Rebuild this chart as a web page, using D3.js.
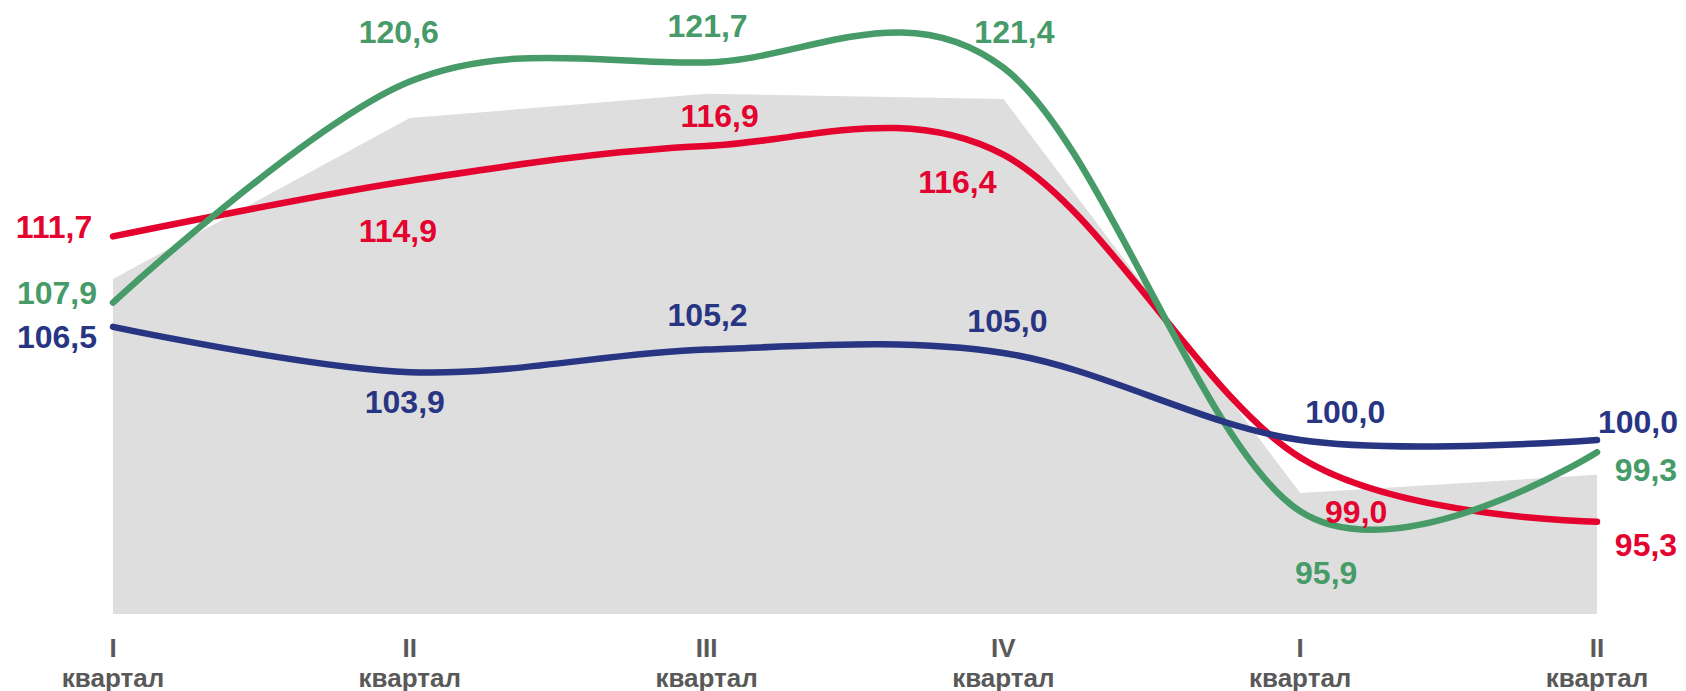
<!DOCTYPE html>
<html>
<head>
    <meta charset="utf-8">
    <title>Индексы по кварталам</title>
    <script src="https://d3js.org/d3.v7.min.js"></script>
    <style>
        body { margin: 0; background: #fff; }
        .value-label {
            font-family: "Liberation Sans", Arial, sans-serif;
            font-weight: bold;
            font-size: 32px;
            text-anchor: middle;
        }
        .axis-label {
            font-family: "Liberation Sans", Arial, sans-serif;
            font-weight: bold;
            font-size: 26px;
            fill: #595959;
            text-anchor: middle;
        }
    </style>
</head>
<body>
    <div id="chart"></div>
    <script>
        // подписи оси X
        const quarters = ["I", "II", "III", "IV", "I", "II"];
        const quarterWord = "квартал";

        // ряды данных
        const areaValues  = [109.25, 118.5, 119.9, 119.6, 96.95, 98.0];
        const redValues   = [111.7, 114.9, 116.9, 116.4, 99.0, 95.3];
        const greenValues = [107.9, 120.6, 121.7, 121.4, 95.9, 99.3];
        const blueValues  = [106.5, 103.9, 105.2, 105.0, 100.0, 100.0];

        // смещения подписей значений относительно точек
        const redOffsets   = [[-59, 2], [-12, 61], [13, -19], [-46, 38], [56, 66], [49, 34]];
        const greenOffsets = [[-56, 1], [-11, -39], [1, -25], [11, -25], [26, 73], [49, 29]];
        const blueOffsets  = [[-56, 21], [-5, 41], [1, -24], [4, -21], [45, -17], [41, -7]];

        const colors = {
            area: "#dedede",
            red: "#e4032e",
            green: "#469b68",
            blue: "#283583"
        };

        const width = 1686, height = 691;

        const svg = d3.select("#chart")
            .append("svg")
            .attr("width", width)
            .attr("height", height);

        const x = d3.scalePoint()
            .domain(d3.range(quarters.length))
            .range([113, 1597]);

        const y = d3.scaleLinear()
            .domain([90, 125])
            .range([614, 5]);

        // серая область
        const area = d3.area()
            .x((d, i) => x(i))
            .y0(y(90))
            .y1(d => y(d));

        svg.append("path")
            .datum(areaValues)
            .attr("d", area)
            .style("fill", colors.area);

        // сглаженные линии
        const line = d3.line()
            .x((d, i) => x(i))
            .y(d => y(d))
            .curve(d3.curveCardinal.tension(0));

        const series = [
            { values: redValues, color: colors.red, offsets: redOffsets },
            { values: greenValues, color: colors.green, offsets: greenOffsets },
            { values: blueValues, color: colors.blue, offsets: blueOffsets }
        ];

        series.forEach(s => {
            svg.append("path")
                .datum(s.values)
                .attr("d", line)
                .style("fill", "none")
                .style("stroke", s.color)
                .style("stroke-width", 6.5)
                .style("stroke-linecap", "round");
        });

        // подписи значений
        series.forEach(s => {
            svg.selectAll(null)
                .data(s.values)
                .enter()
                .append("text")
                .attr("class", "value-label")
                .attr("x", (d, i) => x(i) + s.offsets[i][0])
                .attr("y", (d, i) => y(d) + s.offsets[i][1])
                .style("fill", s.color)
                .text(d => d.toFixed(1).replace(".", ","));
        });

        // подписи оси X
        const ticks = svg.selectAll(".axis-label")
            .data(quarters)
            .enter()
            .append("text")
            .attr("class", "axis-label")
            .attr("x", (d, i) => x(i))
            .attr("y", 657);

        ticks.append("tspan")
            .attr("x", (d, i) => x(i))
            .text(d => d);

        ticks.append("tspan")
            .attr("x", (d, i) => x(i))
            .attr("dy", 30)
            .text(quarterWord);
    </script>
</body>
</html>
